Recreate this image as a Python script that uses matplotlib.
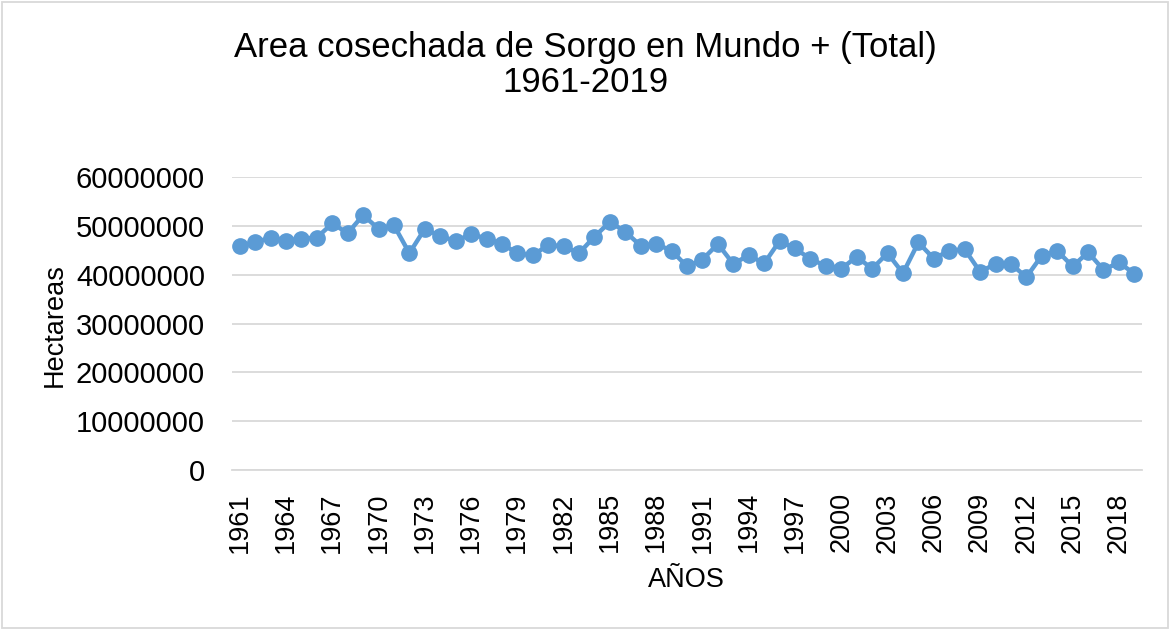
import matplotlib
matplotlib.use("Agg")
from matplotlib import pyplot as plt
from matplotlib.patches import Rectangle

plt.rcParams["font.family"] = ["Liberation Sans", "DejaVu Sans"]

# Datos: area cosechada de sorgo (hectareas), 1961-2019
years = list(range(1961, 2020))
area = [
    45900000, 46600000, 47600000, 46900000, 47400000, 47600000, 50500000, 48500000,
    52200000, 49400000, 50100000, 44400000, 49400000, 47900000, 46900000, 48300000,
    47400000, 46300000, 44400000, 43950000, 46100000, 45800000, 44400000, 47800000,
    50800000, 48800000, 45900000, 46300000, 44900000, 41700000, 43100000, 46300000,
    42200000, 44000000, 42300000, 46900000, 45400000, 43200000, 41800000, 41200000,
    43700000, 41200000, 44400000, 40300000, 46600000, 43300000, 44900000, 45200000,
    40600000, 42200000, 42200000, 39500000, 43900000, 44900000, 41700000, 44600000,
    41000000, 42500000, 40200000,
]
tick_years = list(range(1961, 2019, 3))
y_ticks = [0, 10000000, 20000000, 30000000, 40000000, 50000000, 60000000]

fig = plt.figure(figsize=(11.7, 6.3), dpi=100)
ax = fig.add_axes([0.1983, 0.254, 0.7778, 0.465])

ax.plot(years, area, color="#5b9bd5", linewidth=3.2, marker="o",
        markersize=11, markerfacecolor="#5b9bd5", markeredgecolor="#5b9bd5",
        solid_capstyle="round", zorder=3)

# Formato de ejes
ax.set_xlim(1960.5, 2019.5)
ax.set_ylim(0, 60000000)
ax.set_yticks(y_ticks)
ax.set_yticklabels([str(v) for v in y_ticks])
ax.set_xticks(tick_years)
ax.set_xticklabels([str(y) for y in tick_years], rotation=90)
ax.tick_params(axis="y", length=0, pad=19.5, labelsize=21)
ax.tick_params(axis="x", length=0, pad=16, labelsize=19.5)
ax.grid(axis="y", color="#d9d9d9", linewidth=1.3)
ax.set_axisbelow(True)
for side in ["top", "right", "left"]:
    ax.spines[side].set_visible(False)
ax.spines["bottom"].set_color("#d9d9d9")
ax.spines["bottom"].set_linewidth(1.3)

fig.text(0.5, 1 - 65 / 630, "Area cosechada de Sorgo en Mundo + (Total)\n1961-2019",
         ha="center", va="center", fontsize=25, linespacing=1.1)
fig.text(55 / 1170, 1 - 325 / 630, "Hectareas", rotation=90,
         ha="center", va="center", fontsize=19.5)
fig.text(686 / 1170, 1 - 580 / 630, "AÑOS", ha="center", va="center", fontsize=19.5)

# Borde exterior del grafico
fig.patches.append(Rectangle((0.002, 0.003), 0.996, 0.994, transform=fig.transFigure,
                             fill=False, edgecolor="#d9d9d9", linewidth=1.3))

fig.savefig("out.png", dpi=100)
